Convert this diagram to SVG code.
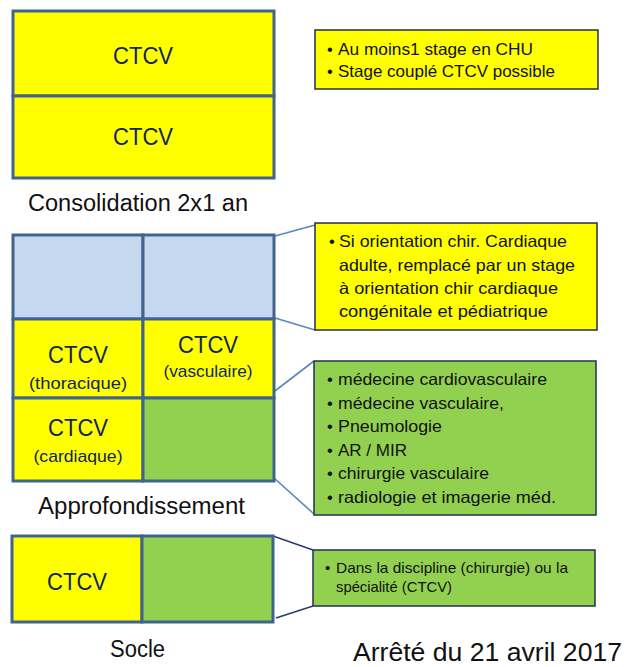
<svg xmlns="http://www.w3.org/2000/svg" width="626" height="667" viewBox="0 0 626 667">
<style>
.cell{stroke:#41648f;stroke-width:3}
.y{fill:#ffff00}.g{fill:#92d050}.b{fill:#c6d8ef}
.note{stroke:#22304f;stroke-width:1.5}
.ct{font-family:"Liberation Sans",Arial,sans-serif;fill:#0f2658;text-anchor:middle}
.big{font-size:24px}.sub{font-size:17px}
.lbl{font-family:"Liberation Sans",Arial,sans-serif;fill:#111;font-size:23px}
.nt{font-family:"Liberation Sans",Arial,sans-serif;fill:#111;font-size:16.5px}
.c1{stroke:#5a86bf;stroke-width:1.6;fill:none}
.c2{stroke:#2a3d72;stroke-width:1.6;fill:none}
</style>
<rect width="626" height="667" fill="#ffffff"/>

<g id="connectors">
<line class="c1" x1="275" y1="236" x2="315" y2="225"/>
<line class="c1" x1="275" y1="318" x2="315" y2="330"/>
<line class="c1" x1="271" y1="394" x2="314" y2="361"/>
<line class="c1" x1="274" y1="478" x2="314" y2="514"/>
<line class="c2" x1="273" y1="536" x2="313" y2="550"/>
<line class="c2" x1="276" y1="618" x2="313" y2="606"/>
</g>

<g id="consolidation">
<rect class="cell y" x="13" y="11" width="261" height="85"/>
<rect class="cell y" x="13" y="96" width="261" height="82"/>
<text class="ct big" x="143" y="64" textLength="60" lengthAdjust="spacingAndGlyphs">CTCV</text>
<text class="ct big" x="143" y="145" textLength="60" lengthAdjust="spacingAndGlyphs">CTCV</text>
<text class="lbl" x="28" y="211" textLength="220" lengthAdjust="spacingAndGlyphs">Consolidation 2x1 an</text>
</g>

<g id="note-consolidation">
<rect class="note y" x="315" y="30" width="283" height="59"/>
<text class="nt" x="327" y="55">•</text>
<text class="nt" x="338" y="55" textLength="195" lengthAdjust="spacingAndGlyphs">Au moins1 stage en CHU</text>
<text class="nt" x="327" y="77">•</text>
<text class="nt" x="338" y="77" textLength="217" lengthAdjust="spacingAndGlyphs">Stage couplé CTCV possible</text>
</g>

<g id="approfondissement">
<rect class="cell b" x="13" y="235" width="130" height="84"/>
<rect class="cell b" x="143" y="235" width="131" height="84"/>
<rect class="cell y" x="13" y="319" width="130" height="79"/>
<rect class="cell y" x="143" y="319" width="131" height="79"/>
<rect class="cell y" x="13" y="398" width="130" height="83"/>
<rect class="cell g" x="143" y="398" width="131" height="83"/>
<text class="ct big" x="78" y="363" textLength="60" lengthAdjust="spacingAndGlyphs">CTCV</text>
<text class="ct sub" x="78" y="389" textLength="98" lengthAdjust="spacingAndGlyphs">(thoracique)</text>
<text class="ct big" x="208" y="353" textLength="60" lengthAdjust="spacingAndGlyphs">CTCV</text>
<text class="ct sub" x="208" y="377" textLength="89" lengthAdjust="spacingAndGlyphs">(vasculaire)</text>
<text class="ct big" x="78" y="436" textLength="60" lengthAdjust="spacingAndGlyphs">CTCV</text>
<text class="ct sub" x="78" y="462" textLength="89" lengthAdjust="spacingAndGlyphs">(cardiaque)</text>
<text class="lbl" x="38" y="514" textLength="207" lengthAdjust="spacingAndGlyphs">Approfondissement</text>
</g>

<g id="note-orientation">
<rect class="note y" x="315" y="223" width="282" height="107"/>
<text class="nt" x="329" y="247">•</text>
<text class="nt" x="339" y="247" textLength="228" lengthAdjust="spacingAndGlyphs">Si orientation chir. Cardiaque</text>
<text class="nt" x="339" y="271" textLength="236" lengthAdjust="spacingAndGlyphs">adulte, remplacé par un stage</text>
<text class="nt" x="339" y="294" textLength="219" lengthAdjust="spacingAndGlyphs">à orientation chir cardiaque</text>
<text class="nt" x="339" y="317" textLength="209" lengthAdjust="spacingAndGlyphs">congénitale et pédiatrique</text>
</g>

<g id="note-stages">
<rect class="note g" x="314" y="361" width="282" height="154"/>
<text class="nt" x="327" y="385">•</text>
<text class="nt" x="338" y="385" textLength="209" lengthAdjust="spacingAndGlyphs">médecine cardiovasculaire</text>
<text class="nt" x="327" y="409">•</text>
<text class="nt" x="338" y="409" textLength="166" lengthAdjust="spacingAndGlyphs">médecine vasculaire,</text>
<text class="nt" x="327" y="432">•</text>
<text class="nt" x="338" y="432" textLength="104" lengthAdjust="spacingAndGlyphs">Pneumologie</text>
<text class="nt" x="327" y="456">•</text>
<text class="nt" x="338" y="456" textLength="69" lengthAdjust="spacingAndGlyphs">AR / MIR</text>
<text class="nt" x="327" y="479">•</text>
<text class="nt" x="338" y="479" textLength="151" lengthAdjust="spacingAndGlyphs">chirurgie vasculaire</text>
<text class="nt" x="327" y="503">•</text>
<text class="nt" x="338" y="503" textLength="218" lengthAdjust="spacingAndGlyphs">radiologie et imagerie méd.</text>
</g>

<g id="socle">
<rect class="cell y" x="12" y="536" width="130" height="86"/>
<rect class="cell g" x="142" y="536" width="131" height="86"/>
<text class="ct big" x="77" y="590" textLength="60" lengthAdjust="spacingAndGlyphs">CTCV</text>
<text class="lbl" x="110" y="657" textLength="55" lengthAdjust="spacingAndGlyphs">Socle</text>
</g>

<g id="note-socle">
<rect class="note g" x="313" y="550" width="282" height="56"/>
<text class="nt" x="325" y="573" style="font-size:15px">•</text>
<text class="nt" x="336" y="573" style="font-size:15px" textLength="232" lengthAdjust="spacingAndGlyphs">Dans la discipline (chirurgie) ou la</text>
<text class="nt" x="336" y="592" style="font-size:15px" textLength="116" lengthAdjust="spacingAndGlyphs">spécialité (CTCV)</text>
</g>

<g id="date">
<text class="lbl" x="353" y="661" style="font-size:25px" textLength="269" lengthAdjust="spacingAndGlyphs">Arrêté du 21 avril 2017</text>
</g>
</svg>
